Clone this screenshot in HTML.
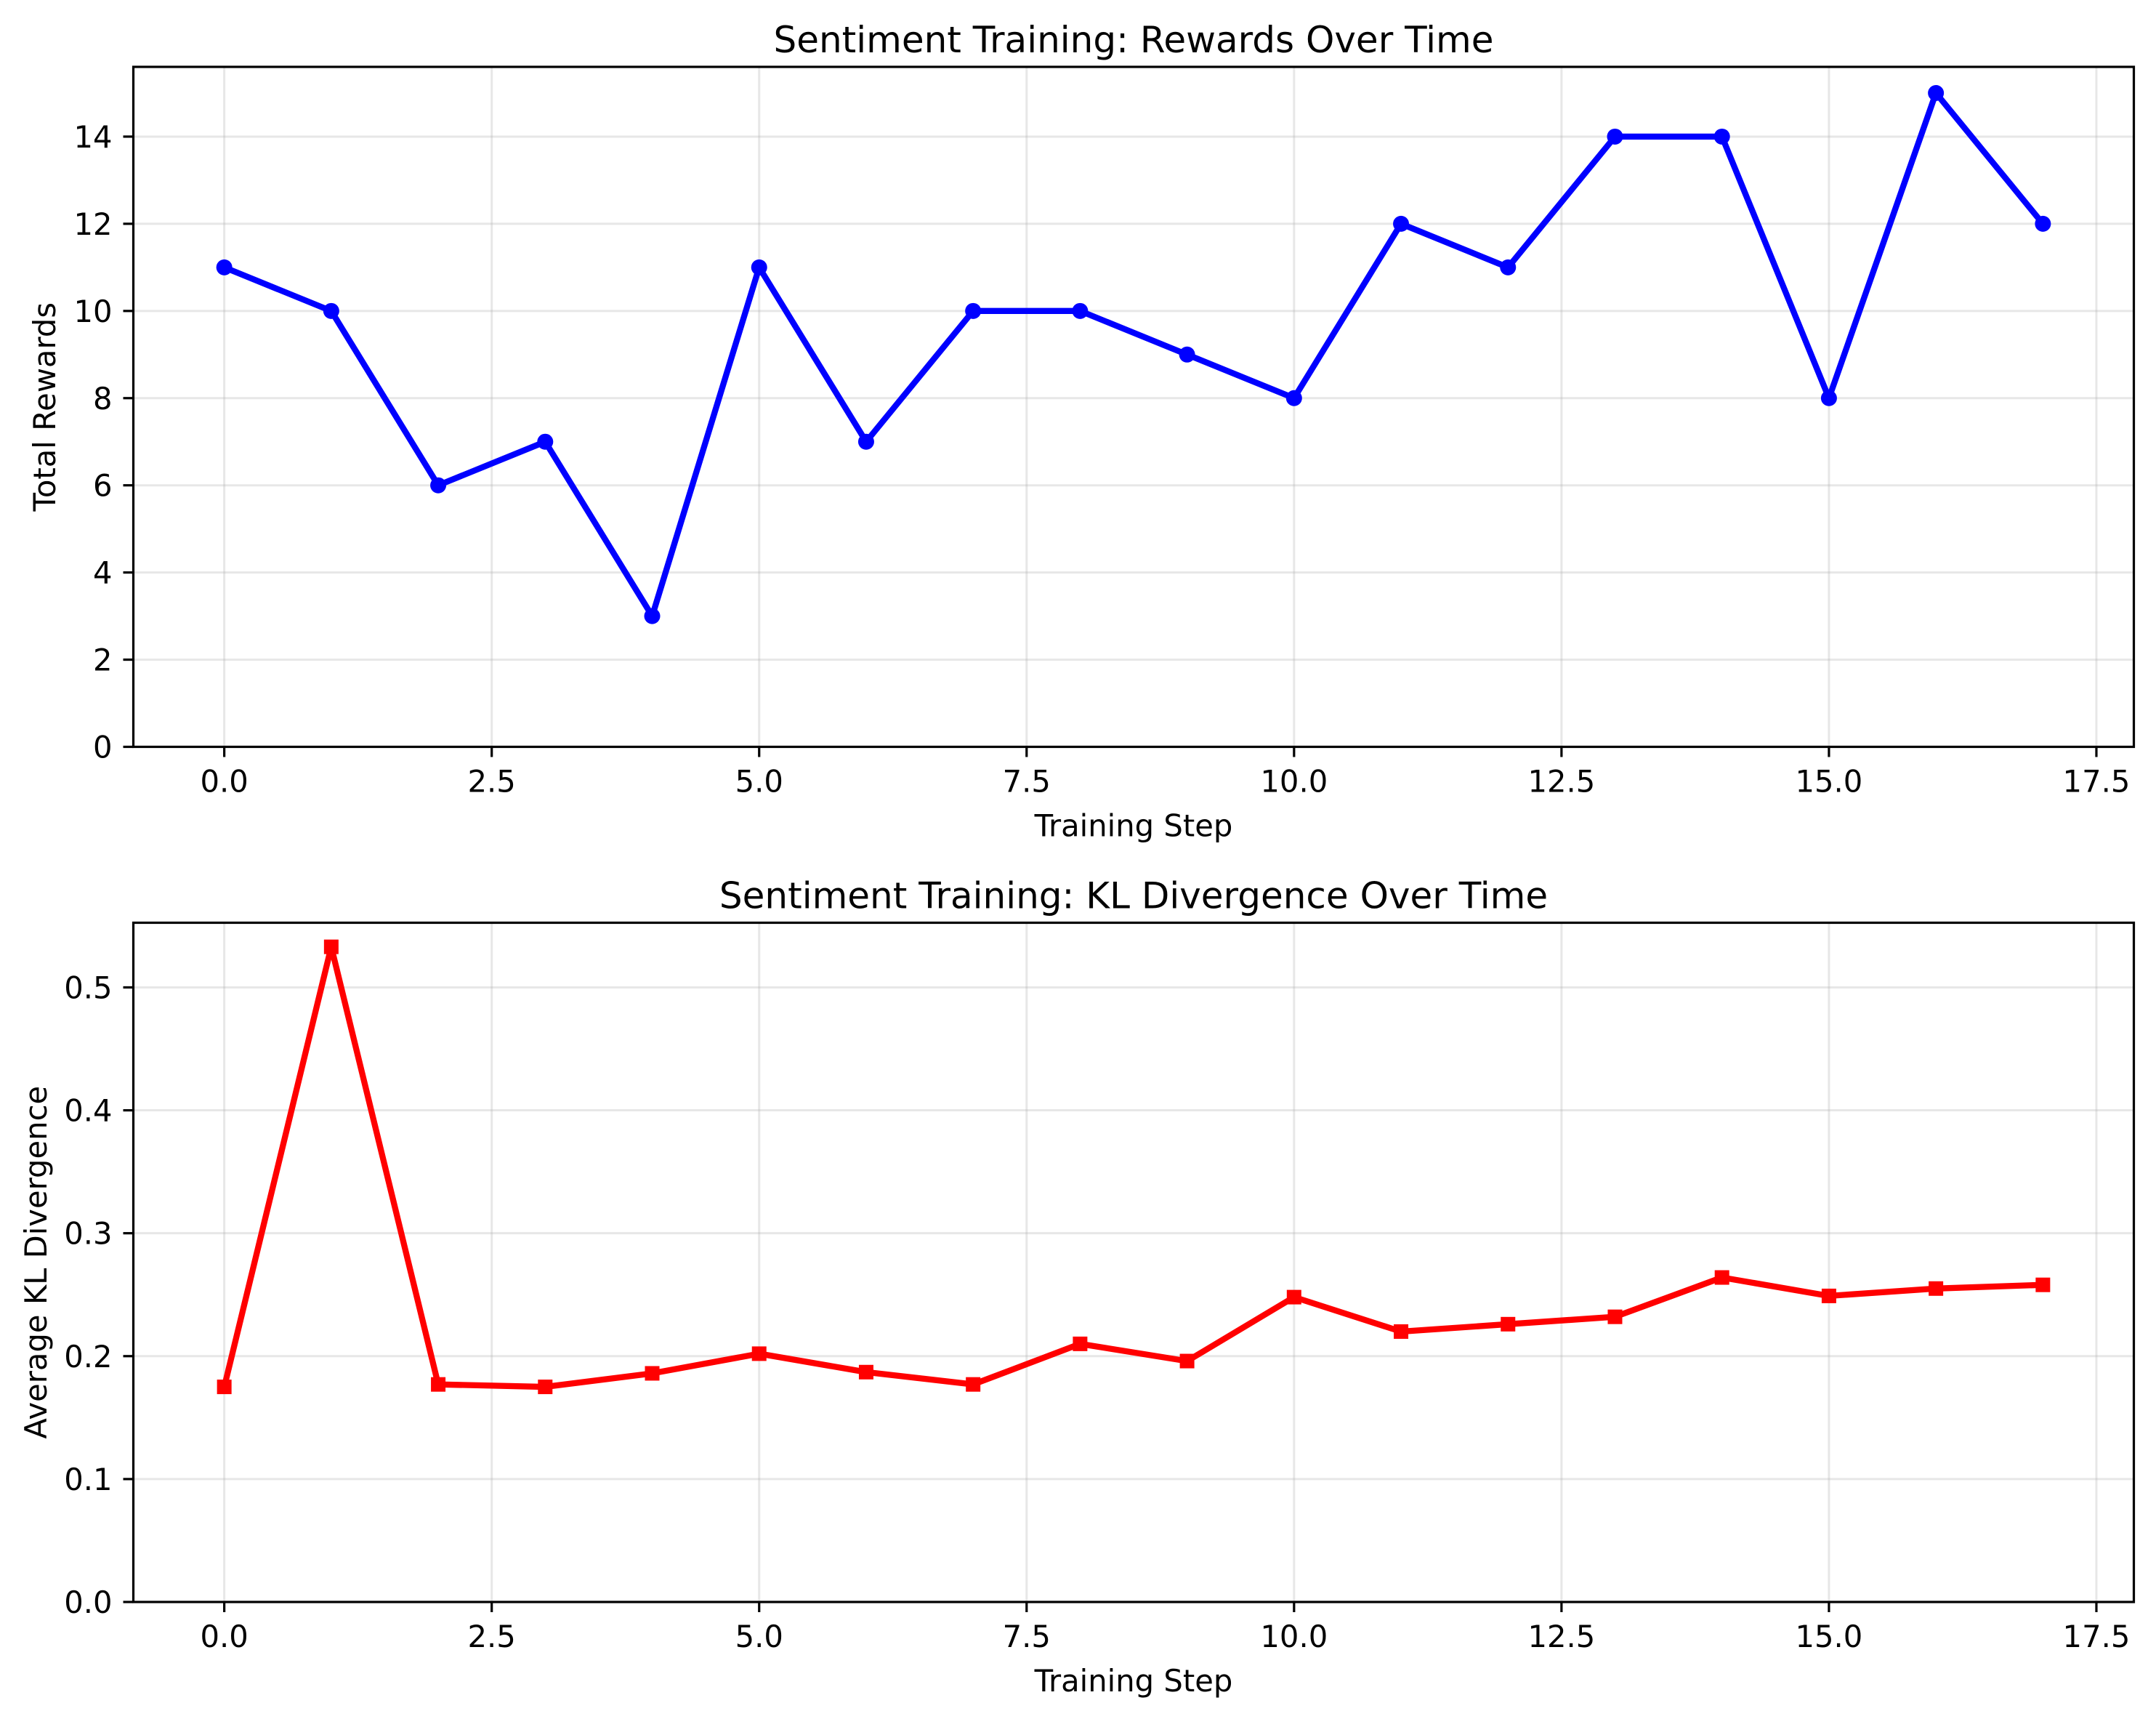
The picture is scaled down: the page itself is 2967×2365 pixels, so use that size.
<!DOCTYPE html>
<html><head><meta charset="utf-8"><style>
html,body{margin:0;padding:0;background:#fff}
svg{display:block;font-family:"DejaVu Sans","Liberation Sans",sans-serif}
</style></head><body>
<svg id="fig" width="2967" height="2365" viewBox="0 0 2967 2365">
<rect width="2967" height="2365" fill="#fff"/>
</svg>
<script>
const steps=[0,1,2,3,4,5,6,7,8,9,10,11,12,13,14,15,16,17];
const rewards=[11,10,6,7,3,11,7,10,10,9,8,12,11,14,14,8,15,12];
const klValues=[0.175,0.533,0.177,0.175,0.186,0.202,0.187,0.177,0.210,0.196,0.248,0.220,0.226,0.232,0.264,0.249,0.255,0.258];
const xTicks=[0,2.5,5,7.5,10,12.5,15,17.5];
const xTickLabels=["0.0","2.5","5.0","7.5","10.0","12.5","15.0","17.5"];
const rewardTicks=[0,2,4,6,8,10,12,14];
const klTicks=[0,0.1,0.2,0.3,0.4,0.5];
const klTickLabels=["0.0","0.1","0.2","0.3","0.4","0.5"];

const NS="http://www.w3.org/2000/svg";
const svg=document.getElementById('fig');
function el(tag,attrs,parent){const e=document.createElementNS(NS,tag);for(const k in attrs)e.setAttribute(k,attrs[k]);(parent||svg).appendChild(e);return e;}

function panel(o){
  const g=el('g',{});
  
  
  const L=183.5,R=2936.5,T=o.top,B=o.bottom;
  const xmin=-0.85,xmax=17.85;
  const sx=v=>L+(v-xmin)/(xmax-xmin)*(R-L);
  const sy=v=>B-(v-o.ymin)/(o.ymax-o.ymin)*(B-T);
  xTicks.forEach((t,i)=>{
    const l=el('line',{x1:sx(t),x2:sx(t),y1:T,y2:B,stroke:'#b0b0b0','stroke-opacity':0.3,'stroke-width':3},g);
    
    
  });
  o.yTicks.forEach((t,i)=>{
    const l=el('line',{x1:L,x2:R,y1:sy(t),y2:sy(t),stroke:'#b0b0b0','stroke-opacity':0.3,'stroke-width':3},g);
    
    
  });
  const pts=steps.map((s,i)=>sx(s)+','+sy(o.values[i])).join(' ');
  const line=el('polyline',{points:pts,fill:'none',stroke:o.color,'stroke-width':8.3,'stroke-linejoin':'round','stroke-linecap':'square'},g);
  
  
  steps.forEach((s,i)=>{
    let m;
    if(o.marker==='o') m=el('circle',{cx:sx(s),cy:sy(o.values[i]),r:11,fill:o.color},g);
    else m=el('rect',{x:sx(s)-10,y:sy(o.values[i])-10,width:20,height:20,fill:o.color},g);
    
    
  });
  const fr=el('rect',{x:L,y:T,width:R-L,height:B-T,fill:'none',stroke:'#000','stroke-width':3.2},g);
  
  
  xTicks.forEach((t,i)=>{
    el('line',{x1:sx(t),x2:sx(t),y1:B,y2:B+14,stroke:'#000','stroke-width':3.2},g);
    const tx=el('text',{x:sx(t),y:B+62,'font-size':41.7,'text-anchor':'middle',fill:'#000'},g);
    tx.textContent=xTickLabels[i];
    
    
  });
  o.yTicks.forEach((t,i)=>{
    el('line',{x1:L,x2:L-14,y1:sy(t),y2:sy(t),stroke:'#000','stroke-width':3.2},g);
    const tx=el('text',{x:L-29,y:sy(t)+15,'font-size':41.7,'text-anchor':'end',fill:'#000'},g);
    tx.textContent=o.yLabels[i];
    
    
  });
  const ti=el('text',{x:(L+R)/2,y:T-20,'font-size':50,'text-anchor':'middle',fill:'#000'},g);
  ti.textContent=o.title;
  
  
  const xl=el('text',{x:(L+R)/2,y:B+123,'font-size':41.7,'text-anchor':'middle',fill:'#000'},g);
  xl.textContent='Training Step';
  
  
  const yl=el('text',{x:0,y:0,'font-size':41.7,'text-anchor':'middle',fill:'#000',transform:'translate('+o.ylx+','+(T+B)/2+') rotate(-90)'},g);
  yl.textContent=o.ylabel;
  
  
}
panel({name:'rewards-chart',top:92,bottom:1027.5,ymin:0,ymax:15.6,values:rewards,color:'#0000ff',marker:'o',
  yTicks:rewardTicks,yLabels:rewardTicks.map(String),title:'Sentiment Training: Rewards Over Time',ylabel:'Total Rewards',ylx:76});
panel({name:'kl-chart',top:1269.5,bottom:2204,ymin:0,ymax:0.5526,values:klValues,color:'#ff0000',marker:'s',
  yTicks:klTicks,yLabels:klTickLabels,title:'Sentiment Training: KL Divergence Over Time',ylabel:'Average KL Divergence',ylx:64});
</script>
</body></html>
